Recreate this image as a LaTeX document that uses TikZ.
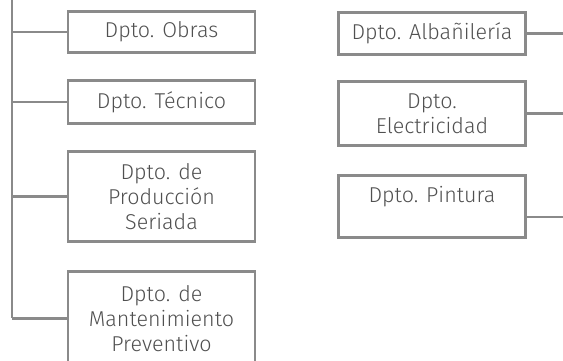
\documentclass[tikz,border=0pt]{standalone}
\usepackage{fontspec}
\setmainfont{Fira Sans Light}
\definecolor{linegray}{HTML}{8A8A8A}
\definecolor{textgray}{HTML}{505050}
\tikzset{dept/.style={draw=linegray, line width=2.6pt, text=textgray, minimum width=187pt, align=center, font=\fontsize{21.5}{25}\selectfont},
  link/.style={draw=linegray, line width=2.6pt}}

\begin{document}
\begin{tikzpicture}[x=1pt,y=-1pt]
\useasboundingbox (0,0) rectangle (563,360);
\clip (0,0) rectangle (563,360);
% left column
\node[dept, minimum height=41.5pt] (obras) at (161.5,32) {Dpto. Obras};
\node[dept, minimum height=43pt] (tecnico) at (161.5,102) {Dpto. T\'ecnico};
\node[dept, minimum height=90pt] (produccion) at (161.5,196.5) {Dpto. de\\Producci\'on\\Seriada};
\node[dept, minimum height=94pt] (mant) at (161.5,318.3) {Dpto. de\\Mantenimiento\\Preventivo};
% right column
\node[dept, minimum height=42pt] (alba) at (432,33.5) {Dpto. Alba\~niler\'ia};
\node[dept, minimum height=64pt] (elec) at (432,113.5) {Dpto.\\Electricidad};
\node[dept, minimum height=62pt, text depth=24pt] (pintura) at (432,206.5) {Dpto. Pintura};
\coordinate (trunk) at (12,0);
\coordinate (edge) at (563,0);
\draw[link] (trunk) -- (trunk |- mant.west);
\foreach \d in {obras,tecnico,produccion,mant}{
\draw[link] (\d.west) -- (\d.west -| trunk);
}
\foreach \d in {alba,elec}{
\draw[link] (\d.east) -- (\d.east -| edge);
}
\draw[link] ([yshift=-10.5pt]pintura.east) -- ([yshift=-10.5pt]pintura.east -| edge);
\end{tikzpicture}
\end{document}
